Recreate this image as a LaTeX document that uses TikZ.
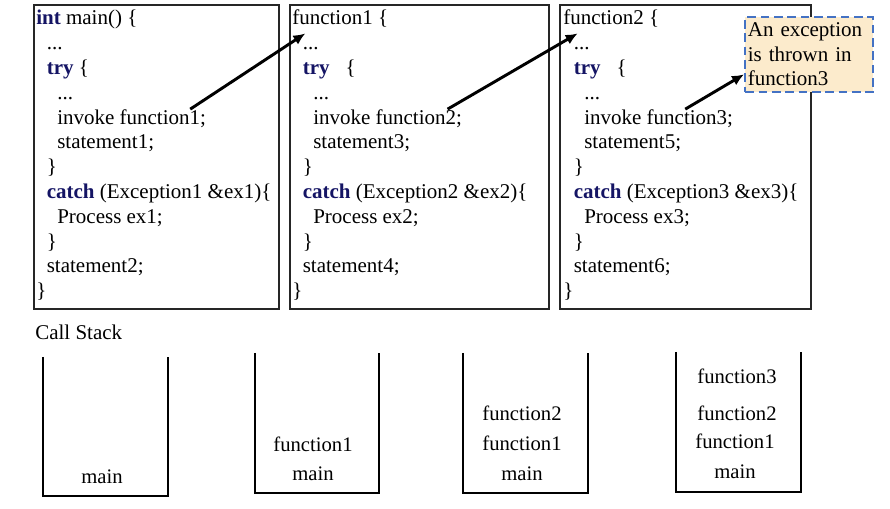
\documentclass[tikz,border=0pt]{standalone}
\usepackage{fontspec}
\setmainfont{Liberation Serif}
\usetikzlibrary{arrows.meta}
\definecolor{kwblue}{RGB}{20,20,100}
\definecolor{notefill}{RGB}{252,235,204}
\definecolor{noteblue}{RGB}{68,114,196}
\newcommand{\kw}[1]{\textbf{\color{kwblue}#1}}
\newcommand{\ellip}{...}
% one code line per node: prefix-1, prefix-2, ...
\newcommand{\codeblock}[3]{%
  \foreach \ind/\txt [count=\i] in {#3}
    \node[code] (#1-\i) at ({#2+\ind*10.5},{25+(\i-1)*24.8}) {\txt};}
\tikzset{
  code/.style={anchor=base west, inner sep=0pt, font=\fontsize{15.75}{18.6}\selectfont},
  slabel/.style={anchor=base, inner sep=0pt, font=\fontsize{15.5}{18.6}\selectfont},
  frame/.style={draw=black!85, line width=1.2pt},
  stack/.style={draw, line width=1.5pt},
  call/.style={-{Latex[length=9pt,width=8pt]}, line width=2.2pt},
  note/.style={draw=noteblue, fill=notefill, line width=1.8pt, dash pattern=on 6.5pt off 3.5pt,
    anchor=north west, text width=92pt, inner xsep=2pt, minimum height=56pt, align=left,
    font=\fontsize{15.75}{18.4}\selectfont}
}
\begin{document}
\begin{tikzpicture}[x=0.75pt, y=-0.75pt]
\useasboundingbox (0,0) rectangle (890,509);

% code frames
\draw[frame] (34,5) rectangle (279,309);
\draw[frame] (290,5) rectangle (549,309);
\draw[frame] (560,5) rectangle (811,309);

\codeblock{m}{36}{0/{\kw{int} main() \{}, 1/\ellip, 1/{\kw{try} \{}, 2/\ellip, 2/invoke function1;,
  2/statement1;, 1/\}, 1/{\kw{catch} (Exception1 \&ex1)\{}, 2/Process ex1;, 1/\}, 1/statement2;, 0/\}}
\codeblock{f}{292}{0/function1 \{, 1/\ellip, 1/{\kw{try}\hspace{12pt}\{}, 2/\ellip, 2/invoke function2;,
  2/statement3;, 1/\}, 1/{\kw{catch} (Exception2 \&ex2)\{}, 2/Process ex2;, 1/\}, 1/statement4;, 0/\}}
\codeblock{g}{563}{0/function2 \{, 1/\ellip, 1/{\kw{try}\hspace{12pt}\{}, 2/\ellip, 2/invoke function3;,
  2/statement5;, 1/\}, 1/{\kw{catch} (Exception3 \&ex3)\{}, 2/Process ex3;, 1/\}, 1/statement6;, 0/\}}

\node[note] (exc) at (744,16) {An exception\\is thrown in\\function3};

% calls
\draw[call] ([xshift=-12pt]m-5.north east) -- ([xshift=10pt,yshift=-4pt]f-1.south west);
\draw[call] ([xshift=-11pt]f-5.north east) -- ([xshift=11pt,yshift=-4pt]g-1.south west);
\draw[call] ([xshift=-36pt]g-5.north east) -- ([yshift=14pt]exc.south west);

% call stacks
\node[code] (callstack) at (35,340) {Call Stack};
\draw[stack] (43,357) |- (168,496) -- (168,357);
\draw[stack] (255,353) |- (379,493) -- (379,353);
\draw[stack] (463,353) |- (588,493) -- (588,353);
\draw[stack] (676,352) |- (801,492) -- (801,352);

\node[slabel] (s1-main) at (102,484) {main};

\node[slabel] (s2-f1) at (313,452) {function1};
\node[slabel] (s2-main) at (313,481) {main};

\node[slabel] (s3-f2) at (522,421) {function2};
\node[slabel] (s3-f1) at (522,451) {function1};
\node[slabel] (s3-main) at (522,481) {main};

\node[slabel] (s4-f3) at (737,384) {function3};
\node[slabel] (s4-f2) at (737,421) {function2};
\node[slabel] (s4-f1) at (735,449) {function1};
\node[slabel] (s4-main) at (735,479) {main};

\end{tikzpicture}
\end{document}
